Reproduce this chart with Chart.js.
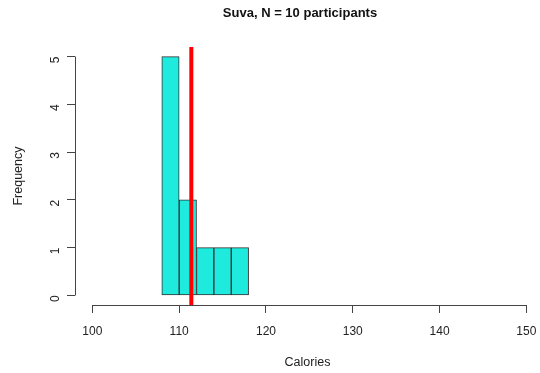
<!DOCTYPE html>
<html>
<head>
<meta charset="utf-8">
<script src="https://cdn.jsdelivr.net/npm/chart.js@4"></script>
<style>
  html, body { margin: 0; padding: 0; background: #fff; }
  #wrap { width: 540px; height: 373px; }
</style>
</head>
<body>
<div id="wrap"><canvas id="chart"></canvas></div>
<script>
// histogram bins (2 calories wide) and counts
const binStarts = [108, 110, 112, 114, 116];
const binWidth = 2;
const counts = [5, 2, 1, 1, 1];
const meanCalories = 111.4;

const xTicks = [100, 110, 120, 130, 140, 150];
const yTicks = [0, 1, 2, 3, 4, 5];

// R-style plot region: 4% padding around the axis range
const yMin = -0.2, yMax = 5.2;
const xMin = 98, xMax = 151.57;

const axisColor = '#444';
const fontFamily = '"Liberation Sans", Arial, sans-serif';

const barData = binStarts.map((start, i) => ({ x: start + binWidth / 2, y: counts[i] }));

// draws axis lines only across the tick range, like base R
const rAxes = {
    id: 'rAxes',
    afterDraw(chart) {
        const ctx = chart.ctx;
        const x = chart.scales.x;
        const y = chart.scales.y;
        const area = chart.chartArea;
        ctx.save();
        ctx.strokeStyle = axisColor;
        ctx.lineWidth = 1;
        ctx.beginPath();
        ctx.moveTo(x.getPixelForValue(xTicks[0]), area.bottom + 0.5);
        ctx.lineTo(x.getPixelForValue(xTicks[xTicks.length - 1]), area.bottom + 0.5);
        ctx.moveTo(area.left + 0.5, y.getPixelForValue(yTicks[0]));
        ctx.lineTo(area.left + 0.5, y.getPixelForValue(yTicks[yTicks.length - 1]));
        ctx.stroke();

        // title, centred over the plot region
        ctx.fillStyle = '#111';
        ctx.font = 'bold 13px ' + fontFamily;
        ctx.textAlign = 'center';
        ctx.textBaseline = 'middle';
        ctx.fillText('Suva, N = 10 participants', 300, 13);
        ctx.restore();
    }
};

new Chart(document.getElementById('chart'), {
    data: {
        datasets: [
            {
                type: 'line',
                data: [{ x: meanCalories, y: yMin }, { x: meanCalories, y: yMax }],
                borderColor: '#ff0000',
                borderWidth: 4,
                pointRadius: 0,
                order: 0
            },
            {
                type: 'bar',
                data: barData,
                backgroundColor: 'rgb(30,235,222)',
                borderColor: '#333',
                borderWidth: 1,
                borderSkipped: false,
                barPercentage: 1,
                categoryPercentage: 1,
                order: 1
            }
        ]
    },
    options: {
        responsive: true,
        maintainAspectRatio: false,
        animation: false,
        layout: { padding: { top: 47, left: 0, right: 0, bottom: 0 } },
        plugins: {
            legend: { display: false },
            tooltip: { enabled: false },
            title: { display: false }
        },
        scales: {
            x: {
                type: 'linear',
                min: xMin,
                max: xMax,
                offset: false,
                afterBuildTicks: (scale) => { scale.ticks = xTicks.map(v => ({ value: v })); },
                afterFit: (scale) => {
                    scale.height = 68;
                    scale.paddingLeft = 0;
                    scale.paddingRight = 0;
                },
                border: { display: false },
                grid: {
                    offset: false,
                    drawOnChartArea: false,
                    drawTicks: true,
                    tickLength: 8,
                    color: axisColor
                },
                ticks: {
                    color: '#222',
                    font: { family: fontFamily, size: 12 },
                    padding: 11,
                    maxRotation: 0,
                    autoSkip: false
                },
                title: {
                    display: true,
                    text: 'Calories',
                    color: '#222',
                    font: { family: fontFamily, size: 12.5 },
                    padding: { top: 0, bottom: 3 }
                }
            },
            y: {
                type: 'linear',
                min: yMin,
                max: yMax,
                afterBuildTicks: (scale) => { scale.ticks = yTicks.map(v => ({ value: v })); },
                afterFit: (scale) => { scale.width = 75; },
                border: { display: false },
                grid: {
                    drawOnChartArea: false,
                    drawTicks: true,
                    tickLength: 8,
                    color: axisColor
                },
                ticks: {
                    color: '#222',
                    font: { family: fontFamily, size: 12 },
                    padding: 11,
                    minRotation: 90,
                    maxRotation: 90,
                    autoSkip: false
                },
                title: {
                    display: true,
                    text: 'Frequency',
                    color: '#222',
                    font: { family: fontFamily, size: 12.5 },
                    padding: { top: 11, bottom: 0 }
                }
            }
        }
    },
    plugins: [rAxes]
});
</script>
</body>
</html>
